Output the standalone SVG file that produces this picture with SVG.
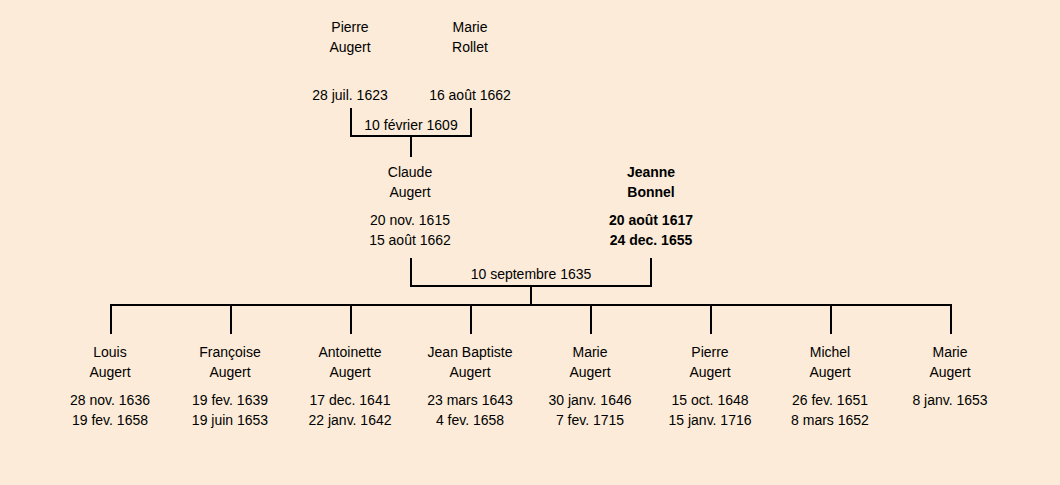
<svg xmlns="http://www.w3.org/2000/svg" width="1060" height="485" viewBox="0 0 1060 485">
<style>
text{font-family:"Comic Sans MS","Liberation Sans",sans-serif;font-size:14px;fill:#000;text-anchor:middle}
.b{font-weight:bold}
.c line{stroke:#000;stroke-width:2;stroke-linecap:square}
</style>
<rect width="1060" height="485" fill="#fbebd8"/>
<g class="c" id="connectors">
<line x1="351" y1="109" x2="351" y2="136"/>
<line x1="471" y1="109" x2="471" y2="136"/>
<line x1="351" y1="136" x2="471" y2="136"/>
<line x1="411" y1="136" x2="411" y2="156"/>
<line x1="411" y1="259" x2="411" y2="286"/>
<line x1="651" y1="259" x2="651" y2="286"/>
<line x1="411" y1="286" x2="651" y2="286"/>
<line x1="531" y1="286" x2="531" y2="305"/>
<line x1="111" y1="305" x2="951" y2="305"/>
<line x1="111" y1="305" x2="111" y2="333"/>
<line x1="231" y1="305" x2="231" y2="333"/>
<line x1="351" y1="305" x2="351" y2="333"/>
<line x1="471" y1="305" x2="471" y2="333"/>
<line x1="591" y1="305" x2="591" y2="333"/>
<line x1="711" y1="305" x2="711" y2="333"/>
<line x1="831" y1="305" x2="831" y2="333"/>
<line x1="951" y1="305" x2="951" y2="333"/>
</g>
<g id="marriage1"><text x="411" y="130">10 février 1609</text></g>
<g id="marriage2"><text x="531" y="279">10 septembre 1635</text></g>
<g id="pierre-augert-sr"><text x="350" y="32">Pierre</text><text x="350" y="52">Augert</text><text x="350" y="100">28 juil. 1623</text></g>
<g id="marie-rollet"><text x="470" y="32">Marie</text><text x="470" y="52">Rollet</text><text x="470" y="100">16 août 1662</text></g>
<g id="claude-augert"><text x="410" y="177">Claude</text><text x="410" y="197">Augert</text><text x="410" y="225">20 nov. 1615</text><text x="410" y="245">15 août 1662</text></g>
<g id="jeanne-bonnel" class="b"><text x="651" y="177">Jeanne</text><text x="651" y="197">Bonnel</text><text x="651" y="225">20 août 1617</text><text x="651" y="245">24 dec. 1655</text></g>
<g id="louis"><text x="110" y="357">Louis</text><text x="110" y="377">Augert</text><text x="110" y="405">28 nov. 1636</text><text x="110" y="425">19 fev. 1658</text></g>
<g id="francoise"><text x="230" y="357">Françoise</text><text x="230" y="377">Augert</text><text x="230" y="405">19 fev. 1639</text><text x="230" y="425">19 juin 1653</text></g>
<g id="antoinette"><text x="350" y="357">Antoinette</text><text x="350" y="377">Augert</text><text x="350" y="405">17 dec. 1641</text><text x="350" y="425">22 janv. 1642</text></g>
<g id="jean-baptiste"><text x="470" y="357">Jean Baptiste</text><text x="470" y="377">Augert</text><text x="470" y="405">23 mars 1643</text><text x="470" y="425">4 fev. 1658</text></g>
<g id="marie-jr"><text x="590" y="357">Marie</text><text x="590" y="377">Augert</text><text x="590" y="405">30 janv. 1646</text><text x="590" y="425">7 fev. 1715</text></g>
<g id="pierre-jr"><text x="710" y="357">Pierre</text><text x="710" y="377">Augert</text><text x="710" y="405">15 oct. 1648</text><text x="710" y="425">15 janv. 1716</text></g>
<g id="michel"><text x="830" y="357">Michel</text><text x="830" y="377">Augert</text><text x="830" y="405">26 fev. 1651</text><text x="830" y="425">8 mars 1652</text></g>
<g id="marie-2"><text x="950" y="357">Marie</text><text x="950" y="377">Augert</text><text x="950" y="405">8 janv. 1653</text></g>
</svg>
